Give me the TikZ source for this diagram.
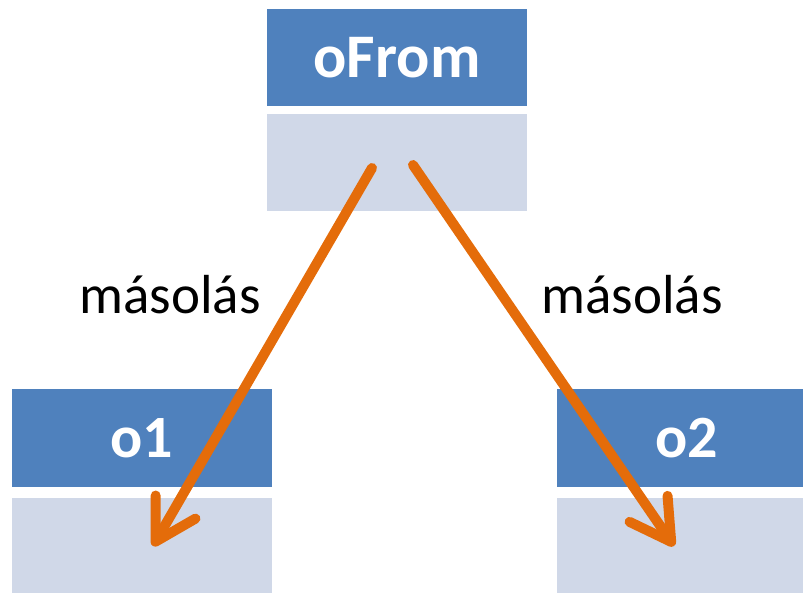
\documentclass[tikz,border=0pt]{standalone}
\usepackage{fontspec}
\setmainfont{Carlito}
\usetikzlibrary{arrows.meta}
\definecolor{headblue}{HTML}{4F81BD}
\definecolor{bodyblue}{HTML}{D0D8E8}
\definecolor{copyorange}{HTML}{E46C0A}
\tikzset{
	head/.style={rectangle, fill=headblue, text=white, font=\bfseries\fontsize{62}{68}\selectfont, minimum width=260pt, minimum height=97pt, inner sep=0pt},
	body/.style={rectangle, fill=bodyblue, minimum width=260pt, minimum height=97pt, inner sep=0pt},
	copyarrow/.style={copyorange, line width=10pt, line cap=round, -{Straight Barb[length=40pt, width=46pt, round]}},
	copylabel/.style={font=\fontsize{55}{60}\selectfont}
}
\begin{document}
\begin{tikzpicture}[x=1pt, y=1pt]
		\useasboundingbox (0,0) rectangle (803,592);
		\node[head] (fromhead) at (397,534) {oFrom};
		\node[body] (frombody) at (397,429) {};
		\node[head, font=\bfseries\fontsize{60}{66}\selectfont] (onehead) at (142,154) {o1};
		\node[body] (onebody) at (142,46) {};
		\node[head, font=\bfseries\fontsize{60}{66}\selectfont] (twohead) at (687,154) {o2};
		\node[body] (twobody) at (687,46) {};
		\coordinate (fromleft) at (372,424);
		\coordinate (fromright) at (413,427);
		\coordinate (oneend) at (153,46);
		\coordinate (twoend) at (674,46);
		\draw[copyarrow] (fromleft) -- (oneend);
		\draw[copyarrow] (fromright) -- (twoend);
		\node[copylabel] (leftlabel) at (170,297) {másolás};
		\node[copylabel] (rightlabel) at (632,297) {másolás};
	\end{tikzpicture}
\end{document}
